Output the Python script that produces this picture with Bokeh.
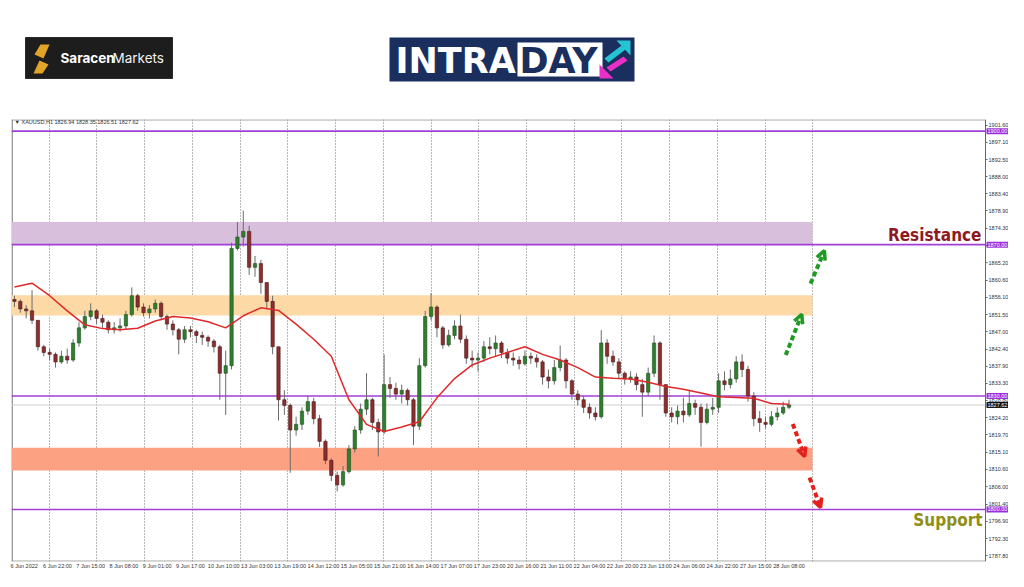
from bokeh.plotting import figure
from bokeh.models import Range1d, FixedTicker, Label, Arrow, OpenHead, ColumnDataSource, NumeralTickFormatter
from bokeh.layouts import column
from bokeh.embed import file_html
from bokeh.resources import INLINE
from bokeh.core.properties import value

# ---------------- data (3-hour candles) ----------------
first_open = 1855.5
close = [1855, 1853, 1852.5, 1850, 1843, 1841.5, 1841, 1839, 1840.5, 1839.5,
         1844, 1848, 1851, 1852.5, 1850.5, 1849.5, 1847.5, 1848, 1848.5, 1851.5,
         1856.5, 1853.5, 1852, 1853, 1854.5, 1851, 1849, 1847.5, 1845, 1847.5,
         1847, 1846, 1845.5, 1844.5, 1843, 1836, 1838, 1869, 1872, 1873.5,
         1864, 1865, 1860, 1855, 1843, 1829, 1827.5, 1821, 1822.5, 1826,
         1828.5, 1824, 1818, 1813, 1809, 1806.5, 1810, 1816, 1821, 1826.5,
         1829, 1823, 1820.5, 1833, 1832, 1830.5, 1831.5, 1829, 1822, 1838,
         1851, 1853.5, 1848, 1843.5, 1846, 1848.5, 1845, 1840, 1839.5, 1840,
         1843, 1842.5, 1844, 1841.5, 1840, 1839.5, 1838.5, 1840.5, 1840, 1839,
         1835, 1834, 1837.5, 1839.5, 1834, 1830.5, 1829, 1827, 1825.5, 1824.5,
         1844, 1840.5, 1839, 1836, 1834.5, 1835, 1833, 1831, 1836, 1844,
         1833, 1825.5, 1824.5, 1826, 1825, 1828, 1827, 1823, 1826.5, 1827,
         1834, 1833, 1834.5, 1839, 1837, 1830, 1824, 1823, 1822.5, 1824.5,
         1825.5, 1827, 1827.62]
high = [1856.5, 1855.5, 1854, 1858, 1850, 1843.5, 1842.5, 1841.5, 1842, 1842.5,
        1845, 1849.5, 1852.5, 1854.5, 1853, 1851.5, 1850, 1849.5, 1850.5, 1852.5,
        1858.7, 1857, 1854.5, 1854, 1855.5, 1855, 1851.5, 1850, 1848, 1848.5,
        1848.5, 1847.5, 1847, 1846, 1845, 1843.5, 1842, 1870.5, 1876, 1879,
        1875, 1867, 1866, 1859.5, 1856.5, 1843, 1831.5, 1828, 1824.5, 1827,
        1830, 1829.5, 1825, 1818.5, 1813.5, 1810, 1811.5, 1817, 1822, 1828,
        1836, 1829.5, 1824, 1841, 1835, 1833.5, 1833, 1832, 1829.5, 1840,
        1852.5, 1857.2, 1854, 1848.5, 1847.5, 1850, 1851.5, 1846, 1842, 1841.5,
        1844.5, 1845.5, 1846, 1844.5, 1842.5, 1841.5, 1840.5, 1842, 1841.5, 1841,
        1839.5, 1837, 1839.5, 1843.3, 1840, 1834.5, 1831.5, 1830, 1828, 1827,
        1847.4, 1845, 1842, 1840, 1836.5, 1836.5, 1836, 1834.5, 1837.5, 1846,
        1844.5, 1833, 1827, 1827.5, 1829.5, 1831.6, 1829, 1828, 1828, 1829.5,
        1836, 1836.5, 1837, 1840.5, 1841, 1838, 1831, 1826, 1824.5, 1826,
        1827, 1828.5, 1829]
low = [1853.5, 1852, 1850.5, 1849, 1842, 1840.5, 1839.5, 1837.5, 1838.5, 1838.5,
       1839, 1843, 1847.5, 1850, 1849, 1848, 1846.5, 1846.5, 1847, 1847.5,
       1851, 1852.5, 1851, 1850.5, 1852, 1850, 1847.5, 1846, 1841, 1844,
       1845.5, 1844, 1843.5, 1843, 1841.5, 1829, 1825, 1837, 1868.5, 1869.5,
       1862, 1861.5, 1857, 1853, 1841, 1823.5, 1825, 1809.7, 1819.5, 1821,
       1825, 1822.5, 1816.5, 1812, 1807.5, 1804.8, 1806, 1809.5, 1815, 1820,
       1825, 1821, 1814, 1820, 1829.5, 1829, 1828, 1827.5, 1817, 1821,
       1837.5, 1850, 1845.5, 1842.5, 1843, 1845, 1844, 1838.5, 1837.5, 1836.5,
       1839, 1841, 1840.5, 1840, 1838.5, 1838, 1837, 1838, 1838.5, 1837.5,
       1833, 1832, 1833, 1836.5, 1832, 1829, 1827.5, 1825.5, 1824, 1823.5,
       1824, 1838.5, 1838, 1834.5, 1833, 1833.5, 1831.5, 1824.5, 1830, 1835,
       1829, 1824.5, 1823, 1822.5, 1823, 1824.5, 1825, 1816.6, 1822.5, 1825,
       1825.5, 1831.5, 1832, 1833.5, 1835, 1828.5, 1822, 1820.5, 1821.5, 1822,
       1823.5, 1825, 1826.5]
# moving average, read every third candle
ma_values = [1858.8, 1859.8, 1856.5, 1852.5, 1848.8, 1847.8, 1847.5, 1847.9, 1849.8, 1851,
             1850.6, 1849.6, 1848, 1851.2, 1853.3, 1852.6, 1849, 1845, 1840.5, 1829,
             1822.5, 1820.6, 1821.8, 1823.2, 1829.5, 1834.6, 1838.2, 1840, 1841.5, 1843,
             1841, 1839.5, 1837.5, 1835, 1834.7, 1834.5, 1833.6, 1832.5, 1831.8, 1830.8,
             1829.8, 1829.6, 1829.4, 1828, 1827.8]

time_labels = ["6 Jun 2022", "6 Jun 22:00", "7 Jun 15:00", "8 Jun 08:00", "9 Jun 01:00",
               "9 Jun 17:00", "10 Jun 10:00", "13 Jun 03:00", "13 Jun 19:00", "14 Jun 12:00",
               "15 Jun 05:00", "15 Jun 21:00", "16 Jun 14:00", "17 Jun 07:00", "17 Jun 23:00",
               "20 Jun 16:00", "21 Jun 11:00", "22 Jun 04:00", "22 Jun 20:00", "23 Jun 13:00",
               "24 Jun 06:00", "24 Jun 22:00", "27 Jun 15:00", "28 Jun 08:00"]
bars_per_label = 17
grid_bars = [18.8, 43.2, 67.6, 92.0, 116.4, 140.8, 165.2, 189.6, 214.0, 238.4,
             262.8, 287.2, 311.6, 336.0, 360.4, 384.8, 409.1]
price_ticks = [1901.6, 1897.1, 1892.5, 1888.0, 1883.4, 1878.9, 1874.3, 1869.8, 1865.2,
               1860.6, 1856.1, 1851.5, 1847.0, 1842.4, 1837.9, 1833.3, 1828.8, 1824.2,
               1819.7, 1815.1, 1810.6, 1806.0, 1801.4, 1796.9, 1792.3, 1787.8, 1783.2]
level_lines = [1900.0, 1870.0, 1830.0, 1800.0]
current_price = 1827.62
zone_end_bar = 409
zones = [(1870.0, 1876.0, "#d8c0dc"), (1851.3, 1856.6, "#fdd9a6"), (1810.3, 1816.3, "#fca283")]
resistance_price = 1872.6
support_price = 1797.2
# arrows: (bar start, price start, bar end, price end)
green_arrows = [(395.3, 1840.8, 403.5, 1851.6), (408.0, 1859.7, 415.1, 1868.4)]
red_arrows = [(398.9, 1822.6, 405.0, 1814.0), (407.5, 1808.4, 413.1, 1800.5)]
header_text = "\u25bc XAUUSD,H1  1826.94 1828.35 1826.51 1827.62"

# ---------------- derived ----------------
opens = [first_open] + close[:-1]
bar_pos = [3 * j + 1 for j in range(len(close))]
up = [c >= o for o, c in zip(opens, close)]
src_up = ColumnDataSource(dict(
    x=[b for b, u in zip(bar_pos, up) if u],
    top=[c for c, u in zip(close, up) if u],
    bottom=[o for o, u in zip(opens, up) if u]))
src_dn = ColumnDataSource(dict(
    x=[b for b, u in zip(bar_pos, up) if not u],
    top=[o for o, u in zip(opens, up) if not u],
    bottom=[c for c, u in zip(close, up) if not u]))
ma_pos = [3 * j + 1 for j in range(0, 3 * len(ma_values), 3)]

FONT = "Liberation Sans"
X0, X1 = -0.5, 509.2          # visible bar range
AXIS_X = 497.46               # bar position of the price axis line
Y0, Y1 = 1786.24, 1903.08     # visible price range

# ---------------- header (logos) ----------------
# (the column aligns this frame with the chart frame, which starts 11px in)
h = figure(width=1008, height=118, x_range=Range1d(11, 1008), y_range=Range1d(118, 0),
           output_backend="svg", toolbar_location=None, min_border=0,
           min_border_left=11, min_border_right=0,
           x_axis_location=None, y_axis_location=None)
h.grid.visible = False
h.outline_line_color = None
h.background_fill_color = "white"
h.border_fill_color = "white"
# Saracen Markets logo
h.quad(left=[25], right=[172], top=[37], bottom=[78], fill_color="#1d1d1d", line_color="#2a2a2a")
h.patches(xs=[[40, 49, 43, 34], [39, 48, 42, 33]], ys=[[44, 44, 58, 54], [60, 64, 73, 73]],
          fill_color="#e0a526", line_color=None)
h.text(x=[60], y=[57.5], text=["Saracen"], text_font=value("Inter"), text_font_style="bold",
       text_font_size="13.5px", text_color="white", text_baseline="middle")
h.text(x=[112], y=[57.5], text=["Markets"], text_font=value("Inter"),
       text_font_size="13.5px", text_color="#f2f2f2", text_baseline="middle")
# INTRADAY logo
h.quad(left=[389], right=[634], top=[37], bottom=[81], fill_color="#1b2f5e", line_color=None)
h.quad(left=[517], right=[602], top=[42], bottom=[76], fill_color="white", line_color=None)
h.text(x=[395], y=[60], text=["INTRA"], text_font=value("DejaVu Sans"), text_font_style="bold",
       text_font_size="35px", text_color="white", text_baseline="middle")
h.text(x=[519], y=[60], text=["DAY"], text_font=value("DejaVu Sans"), text_font_style="bold",
       text_font_size="35px", text_color="#1b2f5e", text_baseline="middle")
h.patches(xs=[[630, 630, 616], [604, 621, 625, 608]], ys=[[40, 55, 40], [58, 45, 49, 62]],
          fill_color="#25c4d4", line_color=None)
h.patches(xs=[[599, 599, 613], [627, 610, 606, 623]], ys=[[78, 64, 78], [60, 71, 67, 56]],
          fill_color="#e830c8", line_color=None)

# ---------------- chart ----------------
p = figure(width=1008, height=453, x_range=Range1d(X0, X1), y_range=Range1d(Y0, Y1),
           y_axis_location="right", output_backend="svg", toolbar_location=None,
           min_border_left=11, min_border_right=0, min_border_top=1, min_border_bottom=8)
p.background_fill_color = "white"
p.border_fill_color = "white"
p.outline_line_color = None
p.ygrid.visible = False
p.xgrid.ticker = FixedTicker(ticks=grid_bars)
p.xgrid.grid_line_color = "#707070"
p.xgrid.grid_line_dash = "1 2"
p.xgrid.grid_line_width = 1

# frame border (left, top, bottom) ending at the price axis
p.line(x=[X0 + 0.3, X0 + 0.3], y=[Y0, Y1], line_color="#555555", line_width=1)
p.line(x=[X0, AXIS_X], y=[Y1 - 0.1, Y1 - 0.1], line_color="#8a8a8a", line_width=1)
p.line(x=[X0, AXIS_X], y=[Y0 + 0.1, Y0 + 0.1], line_color="#8a8a8a", line_width=1)

# zones
for lo, hi, col in zones:
    p.quad(left=[X0], right=[zone_end_bar], bottom=[lo], top=[hi], fill_color=col,
           line_color=None)

# price levels
for lv in level_lines:
    p.line(x=[X0, AXIS_X], y=[lv, lv], line_color="#a23fd6", line_width=1.6)
p.line(x=[X0, AXIS_X], y=[current_price, current_price], line_color="#cfcfcf", line_width=1)

# candles
p.segment(x0=bar_pos, y0=low, x1=bar_pos, y1=high, line_color="#6b6b6b", line_width=1)
p.vbar(x="x", top="top", bottom="bottom", width=1.7, source=src_up,
       fill_color="#2f7d2f", line_color="#1f4f1f", line_width=0.6)
p.vbar(x="x", top="top", bottom="bottom", width=1.7, source=src_dn,
       fill_color="#8a2e2e", line_color="#4a1a1a", line_width=0.6)

# moving average
p.line(x=ma_pos, y=ma_values, line_color="#e0282a", line_width=1.5)

# arrows
for (x0, y0, x1, y1) in green_arrows:
    p.add_layout(Arrow(end=OpenHead(line_color="#1f9a22", line_width=3.5, size=9),
                       x_start=x0, y_start=y0, x_end=x1, y_end=y1,
                       line_color="#1f9a22", line_width=4, line_dash="5 3"))
for (x0, y0, x1, y1) in red_arrows:
    p.add_layout(Arrow(end=OpenHead(line_color="#e4201c", line_width=3.5, size=9),
                       x_start=x0, y_start=y0, x_end=x1, y_end=y1,
                       line_color="#e4201c", line_width=4, line_dash="5 3"))

# time axis
p.xaxis.ticker = FixedTicker(ticks=[bars_per_label * k + 6 for k in range(len(time_labels))])
p.xaxis.major_label_overrides = {bars_per_label * k + 6: t for k, t in enumerate(time_labels)}
p.xaxis.major_tick_out = 0
p.xaxis.major_tick_in = 0
p.xaxis.minor_tick_line_color = None
p.xaxis.major_label_standoff = 1
p.xaxis.major_label_text_font = FONT
p.xaxis.major_label_text_font_size = "5.5px"
p.xaxis.major_label_text_color = "#333333"
p.xaxis.axis_line_color = None

# price axis, drawn at the right end of the price area
p.yaxis.fixed_location = AXIS_X
p.yaxis.ticker = FixedTicker(ticks=price_ticks)
p.yaxis.formatter = NumeralTickFormatter(format="0.00")
p.yaxis.major_tick_out = 2
p.yaxis.major_tick_in = 0
p.yaxis.minor_tick_line_color = None
p.yaxis.major_label_standoff = 1
p.yaxis.major_label_text_font = FONT
p.yaxis.major_label_text_font_size = "5.5px"
p.yaxis.major_label_text_color = "#333333"
p.yaxis.axis_line_color = "#666666"
p.yaxis.major_tick_line_color = "#666666"

# highlighted price labels on the axis
for lv in level_lines:
    p.add_layout(Label(x=975, y=lv, x_units="screen", y_units="data", text="%.2f" % lv,
                       text_font=FONT, text_font_size="5.5px", text_color="white",
                       text_baseline="middle", background_fill_color="#9b30d9", padding=1))
p.add_layout(Label(x=975, y=current_price, x_units="screen", y_units="data",
                   text="%.2f" % current_price, text_font=FONT, text_font_size="5.5px",
                   text_color="white", text_baseline="middle", background_fill_color="#111111",
                   padding=1))

# texts
p.add_layout(Label(x=3, y=440, x_units="screen", y_units="screen", text=header_text,
                   text_font=FONT, text_font_size="5.5px", text_color="#333333",
                   text_baseline="middle"))
p.add_layout(Label(x=970, y=resistance_price, x_units="screen", y_units="data", text="Resistance",
                   text_font="DejaVu Sans Condensed", text_font_style="bold", text_font_size="17px",
                   text_color="#8e1a1f", text_align="right", text_baseline="middle"))
p.add_layout(Label(x=971, y=support_price, x_units="screen", y_units="data", text="Support",
                   text_font="DejaVu Sans Condensed", text_font_style="bold", text_font_size="17px",
                   text_color="#8f8f16", text_align="right", text_baseline="middle"))

layout = column(h, p, spacing=0)
open("out.html", "w").write(file_html(layout, INLINE))
